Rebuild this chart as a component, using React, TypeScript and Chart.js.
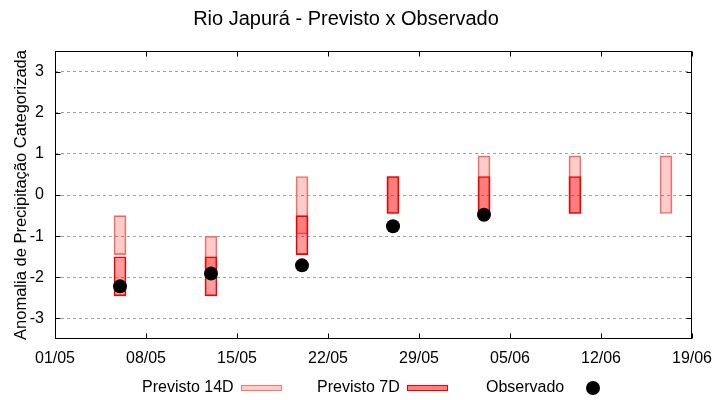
import React, { useEffect, useRef } from 'react';
import { Chart, registerables } from 'chart.js';

Chart.register(...registerables);

const titleText = 'Rio Japurá - Previsto x Observado';
const yAxisTitle = 'Anomalia de Precipitação Categorizada';

// x positions are days counted from 01/05
const xTickDays = [0, 7, 14, 21, 28, 35, 42, 49];
const xTickLabels = ['01/05', '08/05', '15/05', '22/05', '29/05', '05/06', '12/06', '19/06'];
const yTickValues = [-3, -2, -1, 0, 1, 2, 3];
const yTickLabels = ['-3', '-2', '-1', '0', '1', '2', '3'];

const seriesLabels = ['Previsto 14D', 'Previsto 7D', 'Observado'];

const prev14Days = [5, 12, 19, 26, 33, 40, 47];
const prev14Low = [-1.45, -1.95, -0.95, -0.45, -0.45, -0.45, -0.45];
const prev14High = [-0.5, -1.0, 0.45, 0.45, 0.95, 0.95, 0.95];

const prev7Days = [5, 12, 19, 26, 33, 40];
const prev7Low = [-2.45, -2.45, -1.45, -0.45, -0.45, -0.45];
const prev7High = [-1.5, -1.5, -0.5, 0.45, 0.45, 0.45];

const obsDays = [5, 12, 19, 26, 33];
const obsValues = [-2.22, -1.91, -1.71, -0.76, -0.48];

const FONT = '"Liberation Sans", Arial, sans-serif';
const C14_FILL = 'rgba(255,0,0,0.2)';
const C14_BORDER = 'rgb(240,120,110)';
const C7_FILL = 'rgba(255,0,0,0.38)';
const C7_BORDER = 'rgb(240,0,0)';

const framePlugin = {
  id: 'frameAndLegend',
  afterDraw(chart: any) {
    const ctx = chart.ctx;
    const { left, right, top, bottom } = chart.chartArea;
    const xs = chart.scales.x;
    const ys = chart.scales.y;
    ctx.save();
    ctx.strokeStyle = '#000';
    ctx.lineWidth = 1;
    const L = Math.round(left) + 0.5;
    const R = Math.round(right) - 0.5;
    const T = Math.round(top) + 0.5;
    const B = Math.round(bottom) - 0.5;
    ctx.strokeRect(L, T, R - L, B - T);
    const tl = 5;
    ctx.beginPath();
    xTickDays.forEach((d) => {
      const px = Math.round(xs.getPixelForValue(d)) + 0.5;
      ctx.moveTo(px, B);
      ctx.lineTo(px, B - tl);
      ctx.moveTo(px, T);
      ctx.lineTo(px, T + tl);
    });
    yTickValues.forEach((v) => {
      const py = Math.round(ys.getPixelForValue(v)) + 0.5;
      ctx.moveTo(L, py);
      ctx.lineTo(L + tl, py);
      ctx.moveTo(R, py);
      ctx.lineTo(R - tl, py);
    });
    ctx.stroke();

    // legend (text first, sample after, gnuplot style)
    const labels = chart.data.datasets.map((d: any) => d.label);
    ctx.font = '16px ' + FONT;
    ctx.fillStyle = '#000';
    ctx.textBaseline = 'alphabetic';
    ctx.textAlign = 'left';
    const baseY = 392;
    // 14D
    ctx.fillText(labels[2], 142, baseY);
    ctx.fillStyle = C14_FILL;
    ctx.fillRect(241, 385, 41, 6);
    ctx.strokeStyle = C14_BORDER;
    ctx.strokeRect(241.5, 385.5, 40, 5);
    // 7D
    ctx.fillStyle = '#000';
    ctx.fillText(labels[1], 317, baseY);
    ctx.fillStyle = 'rgba(255,0,0,0.5)';
    ctx.fillRect(407, 385, 41, 6);
    ctx.strokeStyle = C7_BORDER;
    ctx.strokeRect(407.5, 385.5, 40, 5);
    // Observado
    ctx.fillStyle = '#000';
    ctx.fillText(labels[0], 486, baseY);
    ctx.beginPath();
    ctx.arc(593, 388, 7, 0, Math.PI * 2);
    ctx.fill();
    ctx.restore();
  },
};

export default function App() {
  const ref = useRef<HTMLCanvasElement>(null);

  useEffect(() => {
    if (!ref.current) return;
    Chart.defaults.font.family = FONT;
    Chart.defaults.font.size = 16;
    Chart.defaults.color = '#000';

    const chart = new Chart(ref.current, {
      type: 'bar',
      data: {
        datasets: [
          {
            type: 'scatter',
            label: seriesLabels[2],
            data: obsDays.map((d, i) => ({ x: d, y: obsValues[i] })),
            backgroundColor: '#000',
            borderColor: '#000',
            borderWidth: 0,
            pointRadius: 7,
            pointHoverRadius: 7,
            order: 1,
          } as any,
          {
            type: 'bar',
            label: seriesLabels[1],
            data: prev7Days.map((d, i) => ({ x: d, y: [prev7Low[i], prev7High[i]] })),
            backgroundColor: C7_FILL,
            borderColor: C7_BORDER,
            borderWidth: 1,
            borderSkipped: false,
            barThickness: 12,
            grouped: false,
            order: 2,
          } as any,
          {
            type: 'bar',
            label: seriesLabels[0],
            data: prev14Days.map((d, i) => ({ x: d, y: [prev14Low[i], prev14High[i]] })),
            backgroundColor: C14_FILL,
            borderColor: C14_BORDER,
            borderWidth: 1,
            borderSkipped: false,
            barThickness: 12,
            grouped: false,
            order: 3,
          } as any,
        ],
      },
      options: {
        animation: false,
        responsive: false,
        layout: { padding: { left: 0, right: 28, top: 0, bottom: 0 } },
        plugins: {
          legend: { display: false },
          tooltip: { enabled: false },
          title: {
            display: true,
            text: titleText,
            color: '#000',
            font: { size: 20, weight: 'normal', family: FONT },
            padding: { top: 7, bottom: 20 },
          },
        },
        scales: {
          x: {
            type: 'linear',
            min: xTickDays[0],
            max: xTickDays[xTickDays.length - 1],
            offset: false,
            grid: { display: false },
            border: { display: false },
            afterBuildTicks: (scale: any) => {
              scale.ticks = xTickDays.map((v) => ({ value: v }));
            },
            afterFit: (scale: any) => {
              scale.height = 61;
            },
            ticks: {
              autoSkip: false,
              maxRotation: 0,
              padding: 2,
              color: '#000',
              font: { size: 16 },
              callback: (_v: any, i: number) => xTickLabels[i],
            },
          },
          y: {
            type: 'linear',
            min: -3.5,
            max: 3.5,
            grid: { color: '#a0a0a0', lineWidth: 1, drawTicks: false },
            border: { display: false, dash: [3, 3] },
            afterBuildTicks: (scale: any) => {
              scale.ticks = yTickValues.map((v) => ({ value: v }));
            },
            afterFit: (scale: any) => {
              scale.width = 55;
            },
            ticks: {
              padding: 11,
              color: '#000',
              font: { size: 16 },
              callback: (_v: any, i: number) => yTickLabels[i],
            },
            title: {
              display: true,
              text: yAxisTitle,
              color: '#000',
              font: { size: 16.5, family: FONT },
              padding: { top: 12, bottom: 0 },
            },
          },
        },
      } as any,
      plugins: [framePlugin],
    });
    return () => chart.destroy();
  }, []);

  return (
    <div style={{ position: 'fixed', left: 0, top: 0, width: 720, height: 400, background: '#fff' }}>
      <canvas ref={ref} width={720} height={400} style={{ width: 720, height: 400, display: 'block' }} />
    </div>
  );
}
